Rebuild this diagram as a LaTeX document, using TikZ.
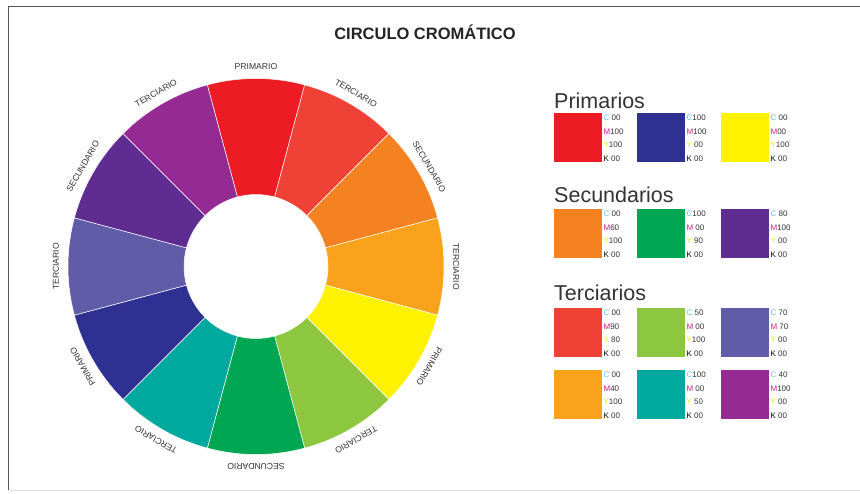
\documentclass[tikz,border=0pt]{standalone}
\usepackage{fontspec}
\setmainfont{Liberation Sans}
\definecolor{cRed}{HTML}{ED1C24}
\definecolor{cRedOr}{HTML}{EF4136}
\definecolor{cOrange}{HTML}{F58220}
\definecolor{cOrYel}{HTML}{FAA21B}
\definecolor{cYellow}{HTML}{FFF200}
\definecolor{cYelGr}{HTML}{8DC63F}
\definecolor{cGreen}{HTML}{00A651}
\definecolor{cTeal}{HTML}{00A99D}
\definecolor{cBlue}{HTML}{2E3192}
\definecolor{cBlueVi}{HTML}{605CA8}
\definecolor{cPurple}{HTML}{5F2D91}
\definecolor{cMagPur}{HTML}{952A92}
\definecolor{txtgray}{HTML}{333333}
\definecolor{kC}{HTML}{5CC6EE}
\definecolor{kM}{HTML}{CC1B8A}
\definecolor{kY}{HTML}{EDE01A}
\definecolor{framegray}{HTML}{555555}
\tikzset{
  wheellabel/.style={font=\fontsize{8.6}{9}\selectfont, text=txtgray, inner sep=0pt},
  swatchbox/.style={anchor=north west, minimum width=48pt, minimum height=49pt, inner sep=0pt, draw=none},
  cmyktext/.style={anchor=base west, font=\fontsize{8}{9}\selectfont, text=txtgray, inner sep=0pt},
  grouptitle/.style={anchor=base west, font=\fontsize{21.5}{24}\selectfont, text=txtgray, inner sep=0pt},
  seg/.style={draw=white, line width=0.5pt}
}
% #1 name, #2 x, #3 y, #4 color, #5 C, #6 M, #7 Y, #8 K
\newcommand{\myswatch}[8]{%
  \node[swatchbox, fill=#4] (#1) at (#2,#3) {};
  \node[cmyktext] (#1c) at ([xshift=1pt,yshift=-7.3pt]#1.north east) {\textcolor{kC}{C}#5};
  \node[cmyktext] (#1m) at ([xshift=1pt,yshift=-21pt]#1.north east) {\textcolor{kM}{M}#6};
  \node[cmyktext] (#1y) at ([xshift=1pt,yshift=-34.7pt]#1.north east) {\textcolor{kY}{Y}#7};
  \node[cmyktext] (#1k) at ([xshift=1pt,yshift=-48pt]#1.north east) {\textcolor{black}{K}#8};
}
\begin{document}
\begin{tikzpicture}[x=1pt,y=-1pt]
\useasboundingbox (0,0) rectangle (860,493);
\fill[white] (0,0) rectangle (860,493);
% frame
\draw[framegray, line width=1.3pt] (8.5,490) -- (8.5,6.5) -- (860,6.5);
\draw[black!12, line width=0.8pt] (8.5,490) -- (860,490);
% title
\node[font=\bfseries\fontsize{16.5}{18}\selectfont, text=txtgray!70!black, inner sep=0pt] (title) at (425,32) {CIRCULO CROMÁTICO};
% wheel
\begin{scope}[shift={(256,266.5)}]
  \foreach \a/\col/\lab/\nm in {90/cRed/PRIMARIO/l1, 60/cRedOr/TERCIARIO/l2, 30/cOrange/SECUNDARIO/l3, 0/cOrYel/TERCIARIO/l4, -30/cYellow/PRIMARIO/l5, -60/cYelGr/TERCIARIO/l6, -90/cGreen/SECUNDARIO/l7, -120/cTeal/TERCIARIO/l8, -150/cBlue/PRIMARIO/l9, 180/cBlueVi/TERCIARIO/l10, 150/cPurple/SECUNDARIO/l11, 120/cMagPur/TERCIARIO/l12}{
    \pgfmathsetmacro{\aa}{\a-15}
    \pgfmathsetmacro{\ab}{\a+15}
    \pgfmathsetmacro{\rot}{\a-90}
    \path[seg, fill=\col] (\aa:72pt) -- (\aa:188pt) arc[start angle=\aa, end angle=\ab, radius=188pt] -- (\ab:72pt) arc[start angle=\ab, end angle=\aa, radius=72pt] -- cycle;
    \node[wheellabel, rotate=\rot] (\nm) at (\a:200pt) {\lab};
  }
\end{scope}
% groups
\node[grouptitle] (tprim) at (554,108) {Primarios};
\myswatch{p1}{554}{113}{cRed}{ 00}{100}{100}{ 00}
\myswatch{p2}{637}{113}{cBlue}{100}{100}{ 00}{ 00}
\myswatch{p3}{721}{113}{cYellow}{ 00}{00}{100}{ 00}
\node[grouptitle] (tsec) at (554,202) {Secundarios};
\myswatch{s1}{554}{209}{cOrange}{ 00}{60}{100}{ 00}
\myswatch{s2}{637}{209}{cGreen}{100}{ 00}{ 90}{ 00}
\myswatch{s3}{721}{209}{cPurple}{ 80}{100}{ 00}{ 00}
\node[grouptitle] (tter) at (554,300) {Terciarios};
\myswatch{t1}{554}{308}{cRedOr}{ 00}{90}{ 80}{ 00}
\myswatch{t2}{637}{308}{cYelGr}{ 50}{ 00}{100}{ 00}
\myswatch{t3}{721}{308}{cBlueVi}{ 70}{ 70}{ 00}{ 00}
\myswatch{t4}{554}{370}{cOrYel}{ 00}{40}{100}{ 00}
\myswatch{t5}{637}{370}{cTeal}{100}{ 00}{ 50}{ 00}
\myswatch{t6}{721}{370}{cMagPur}{ 40}{100}{ 00}{ 00}
\end{tikzpicture}
\end{document}
